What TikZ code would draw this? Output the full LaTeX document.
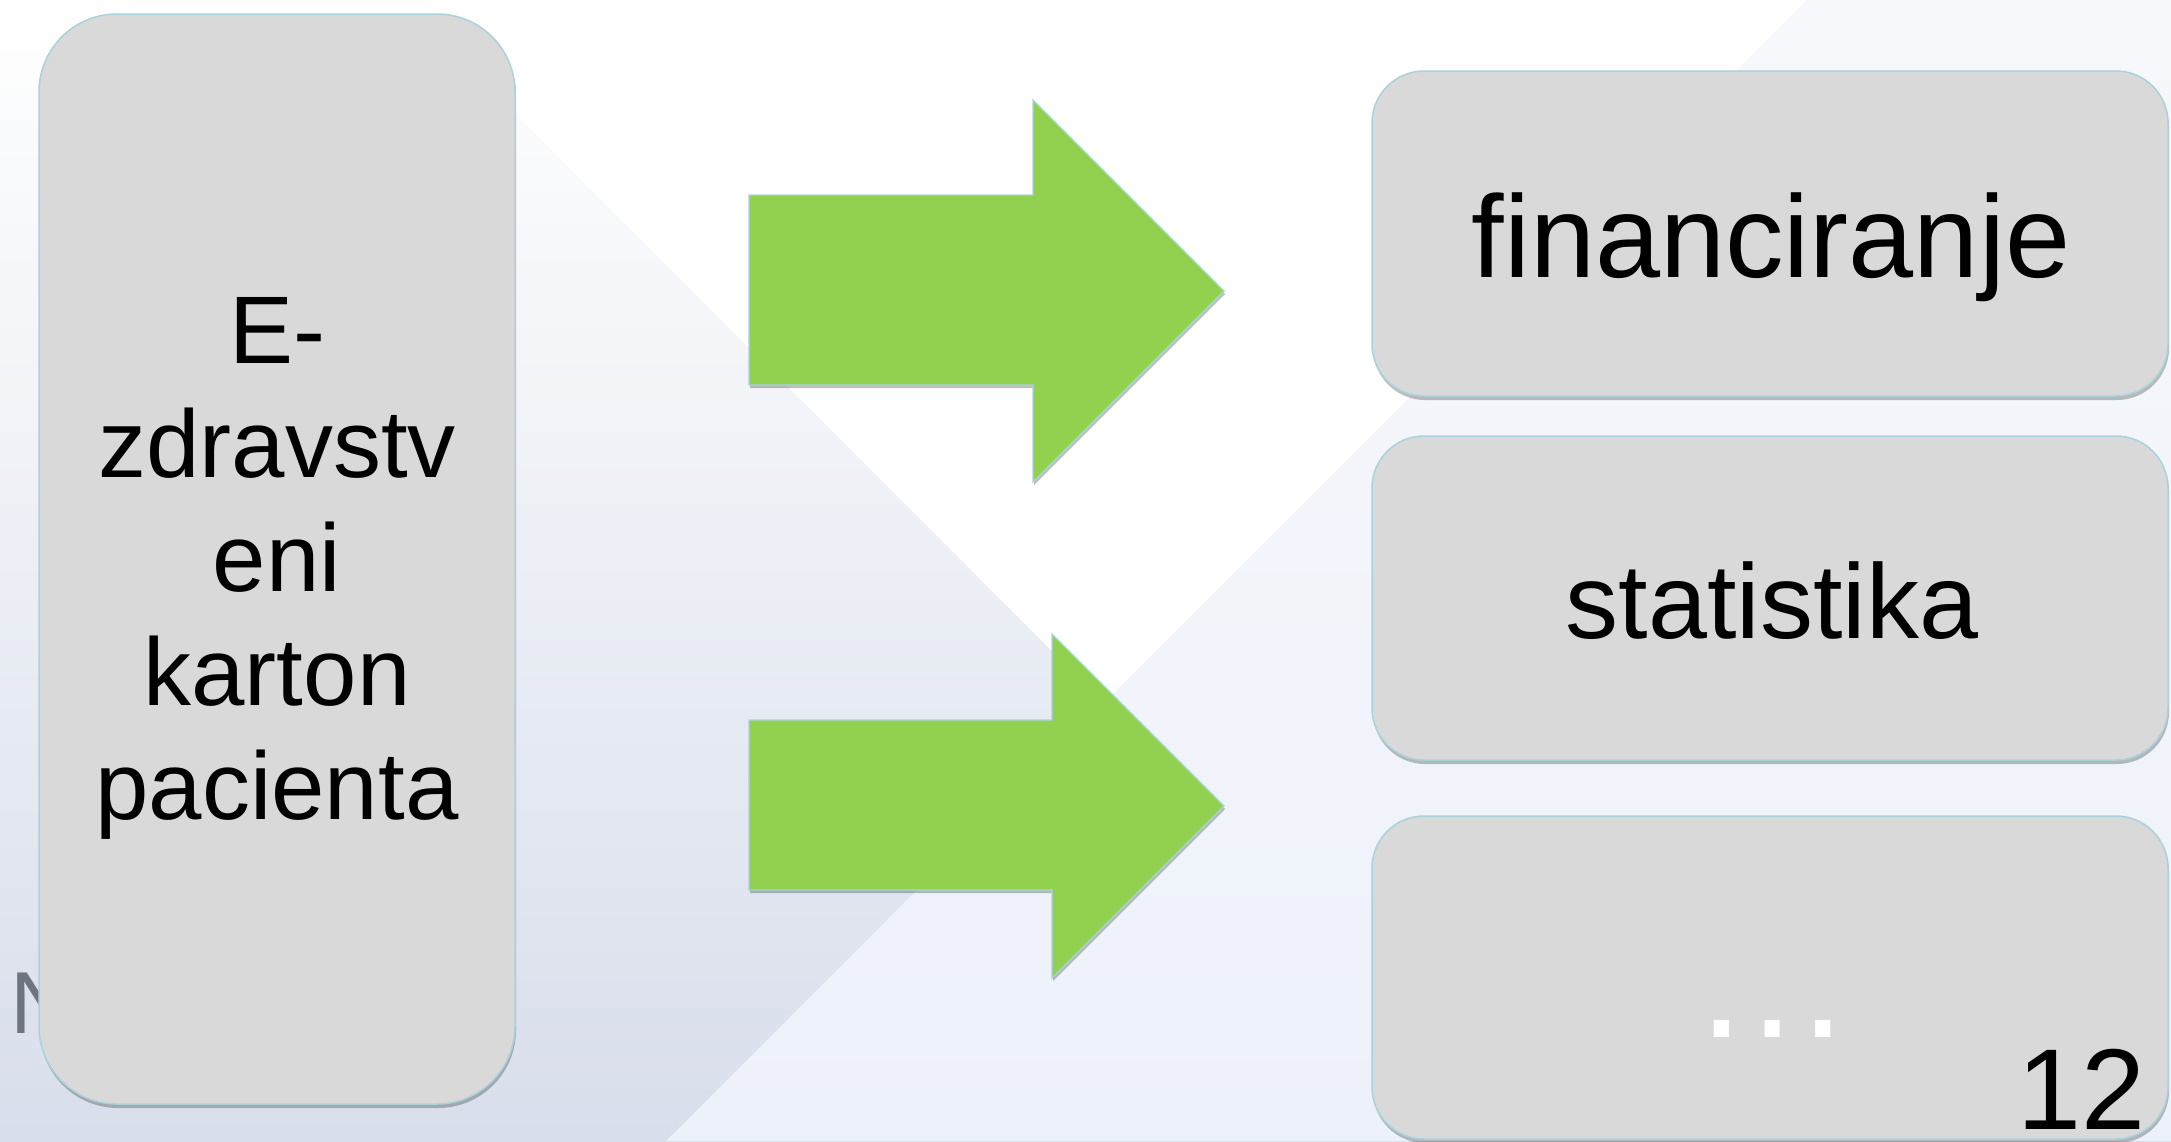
\documentclass[tikz,border=0pt]{standalone}
\usepackage{fontspec}
\setmainfont{Liberation Sans}
\usetikzlibrary{shadows}
\definecolor{boxgray}{HTML}{D9D9D9}
\definecolor{boxline}{HTML}{A9D3DA}
\definecolor{arrgreen}{HTML}{92D050}
\definecolor{arrline}{HTML}{A8D4DC}
\definecolor{bgbot}{HTML}{D8DEEB}
\definecolor{rtop}{HTML}{F7F8FB}
\definecolor{rbot}{HTML}{EDF1FA}
\definecolor{numgray}{HTML}{6F7580}
\begin{document}
\begin{tikzpicture}[x=1pt,y=-1pt,
  box/.style={draw=boxline, line width=1.5pt, fill=boxgray, rounded corners=52pt, inner sep=0pt,
    drop shadow={shadow xshift=1pt, shadow yshift=-4pt, opacity=0.25, fill=black}},
  lbl/.style={inner sep=0pt, anchor=base, text=black},
  blockarrow/.style={fill=arrgreen, draw=arrline, line width=1.2pt, line join=miter,
    drop shadow={shadow xshift=1pt, shadow yshift=-3pt, opacity=0.25, fill=black}}
]
\useasboundingbox (0,0) rectangle (2171,1141);
% background
\shade[top color=white, bottom color=bgbot] (0,0) rectangle (2171,1141);
\fill[white] (401,0) -- (1104,703) -- (1807,0) -- cycle;
\shade[top color=rtop, bottom color=rbot] (1807,0) -- (2171,0) -- (2171,1141) -- (666,1141) -- cycle;
% footer letter behind the box
\node[lbl, anchor=base west, text=numgray, font=\fontsize{88}{100}\selectfont] (ftr) at (10,1033) {N};
% left box
\node[box, minimum width=476pt, minimum height=1090pt, rounded corners=78pt] (kart) at (277,559) {};
\node[inner sep=0pt, align=center, font=\fontsize{96}{114}\selectfont] (kart-t) at (277,568) {E-\\zdravstv\\eni\\karton\\pacienta};
% right boxes
\node[box, minimum width=796pt, minimum height=325pt] (fin) at (1770,233.5) {};
\node[box, minimum width=796pt, minimum height=324pt] (stat) at (1770,598) {};
\node[box, minimum width=796pt, minimum height=323pt] (more) at (1770,977.5) {};
\node[lbl, font=\fontsize{117}{140}\selectfont] (fin-t) at (1771,277) {financiranje};
\node[lbl, font=\fontsize{106}{127}\selectfont] (stat-t) at (1772,638) {statistika};
\node[lbl, text=white, font=\fontsize{160}{190}\selectfont] (more-t) at (1772,1037) {…};
% arrows
\path[blockarrow] (749,195) -- (1033,195) -- (1033,100) -- (1224,291) -- (1033,482) -- (1033,385) -- (749,385) -- cycle;
\path[blockarrow] (749,720) -- (1052,720) -- (1052,634) -- (1224,806) -- (1052,978) -- (1052,890) -- (749,890) -- cycle;
% slide number
\node[lbl, anchor=base east, font=\fontsize{115}{138}\selectfont] (pg) at (2146,1129) {12};
\end{tikzpicture}
\end{document}
